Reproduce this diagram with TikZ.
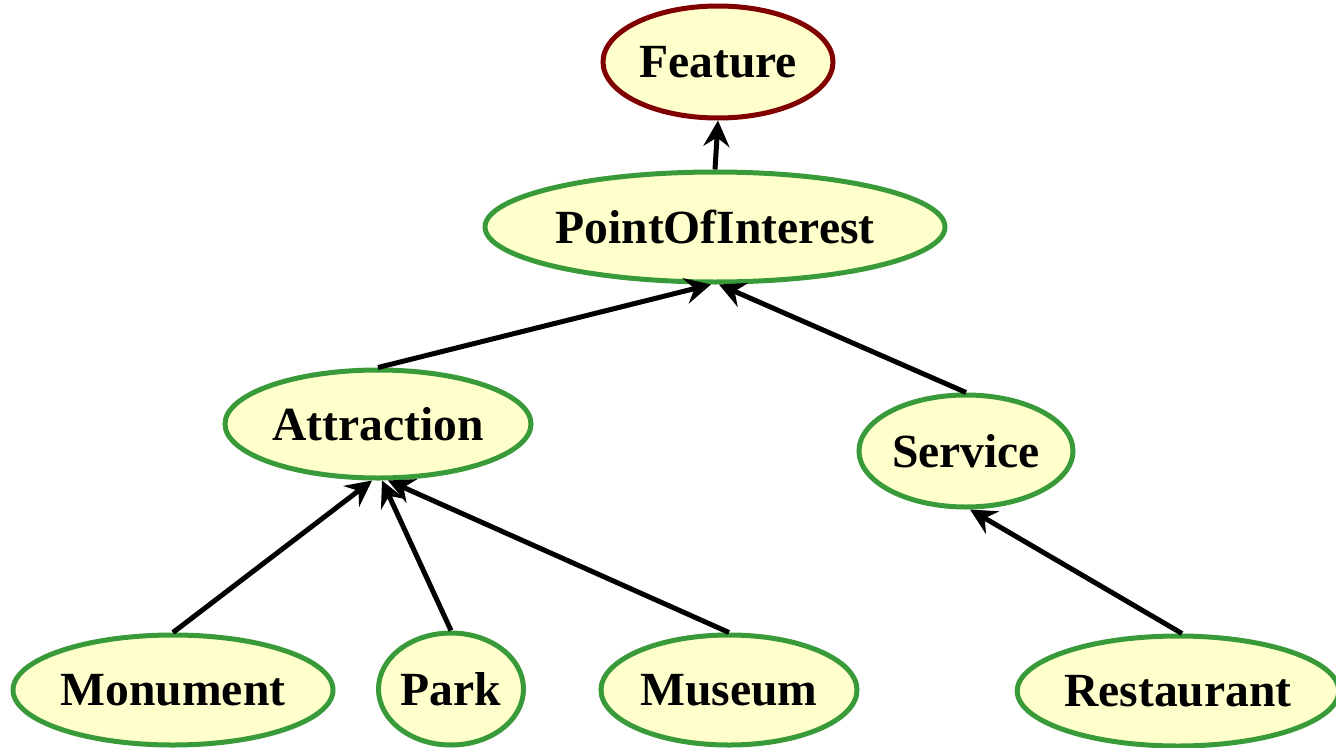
\documentclass[tikz,border=0pt]{standalone}
\usepackage{fontspec}
\setmainfont{Liberation Serif}
\usetikzlibrary{shapes.geometric,arrows.meta}
\definecolor{nodefill}{RGB}{255,255,204}
\definecolor{nodegreen}{RGB}{56,154,56}
\definecolor{nodered}{RGB}{128,0,0}
\tikzset{
  cls/.style={ellipse, draw=nodegreen, fill=nodefill, line width=5pt, inner sep=0pt,
    font=\fontsize{47.6}{52}\selectfont\bfseries, text=black, text depth=0pt},
  rootcls/.style={cls, draw=nodered},
  arr/.style={line width=5pt, -{Stealth[length=26pt,width=26pt,inset=9pt]}, black},
}
\begin{document}
\begin{tikzpicture}[x=1pt,y=-1pt]
\useasboundingbox (0,0) rectangle (1336,747);
\node[rootcls, minimum width=230pt, minimum height=112pt] (feat) at (718,62) {Feature};
\node[cls, minimum width=460pt, minimum height=110pt] (poi) at (715,227) {PointOfInterest};
\node[cls, minimum width=306pt, minimum height=108pt] (att) at (378,424) {Attraction};
\node[cls, minimum width=214pt, minimum height=112pt] (serv) at (966,451) {Service};
\node[cls, minimum width=320pt, minimum height=110pt] (mon) at (173,690) {Monument};
\node[cls, minimum width=145pt, minimum height=112pt] (park) at (451,689) {Park};
\node[cls, minimum width=256pt, minimum height=110pt] (mus) at (729,690) {Museum};
\node[cls, minimum width=314pt, minimum height=110pt] (rest) at (1178,691) {Restaurant};
\draw[arr] (poi.north) -- (feat.south);
\draw[arr] (att.north) -- ([xshift=-4pt]poi.south);
\draw[arr] (serv.north) -- ([xshift=4pt]poi.south);
\draw[arr] (mon.north) -- ([xshift=-6pt]att.south);
\draw[arr] (park.north) -- ([xshift=4pt]att.south);
\draw[arr] (mus.north) -- ([xshift=10pt]att.south);
\draw[arr] ([xshift=4pt]rest.north) -- ([xshift=4pt]serv.south);
\end{tikzpicture}
\end{document}
